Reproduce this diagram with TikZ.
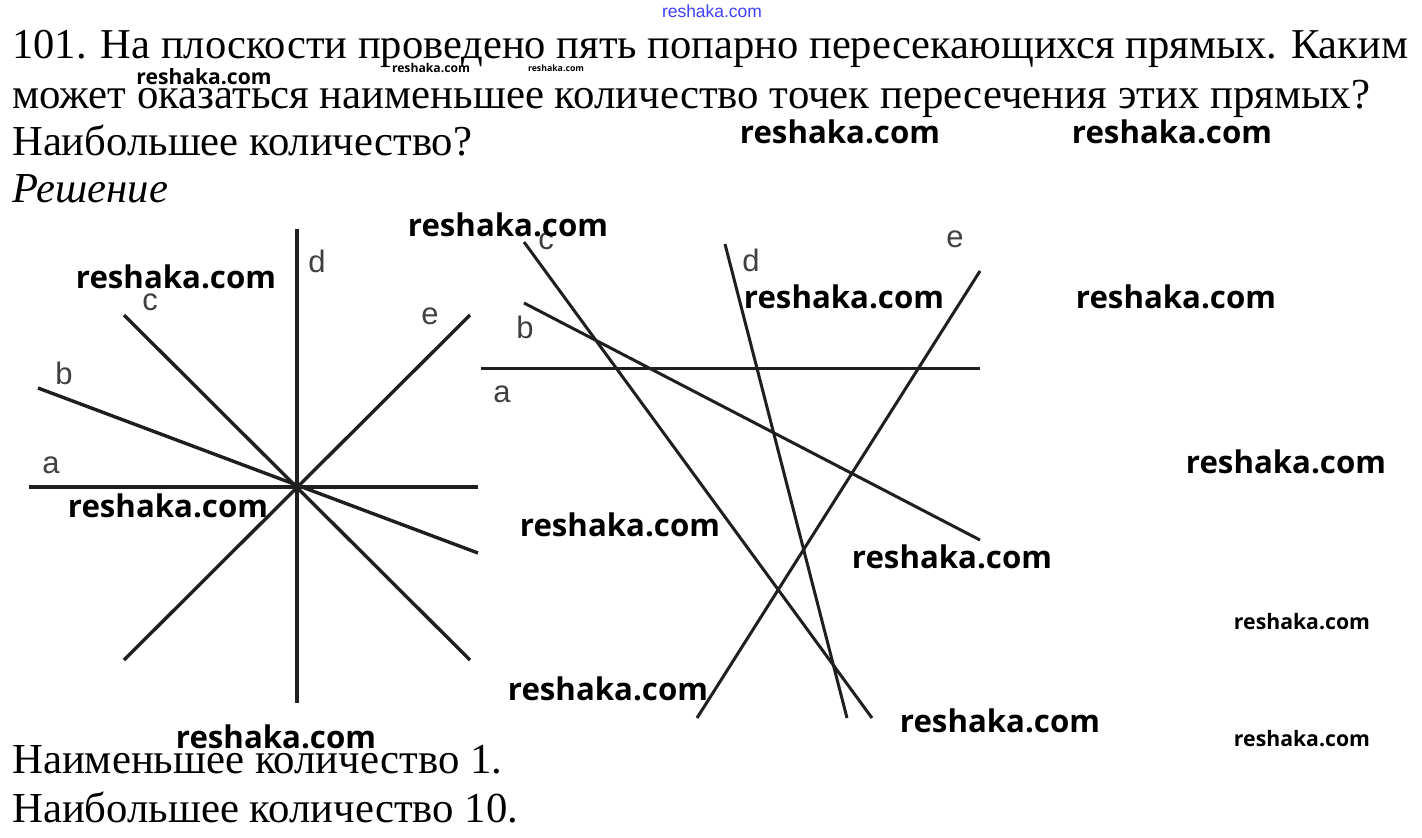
\documentclass[tikz,border=0pt]{standalone}
\usepackage{fontspec}
\usepackage{graphicx}
\setmainfont{Liberation Serif}
\setsansfont{Liberation Sans}
\newfontfamily\wmfont{Open Sans}
\newcommand\wmtext[1]{\resizebox{#1}{!}{reshaka.com}}
\newcommand\fitline[2]{\resizebox{#1}{!}{#2}}
\begin{document}
\begin{tikzpicture}[x=1pt,y=-1pt,
  txt/.style={anchor=base west, inner sep=0pt, font=\fontsize{40}{48}\selectfont},
  wm/.style={inner sep=0pt, font=\wmfont\bfseries},
  lbl/.style={inner sep=0pt, text=black!75, font=\sffamily\fontsize{31}{31}\selectfont},
  ln/.style={line width=3.4pt, black!88},
  lnr/.style={line width=3pt, black!88}]
\useasboundingbox (0,0) rectangle (1422,838);
\fill[white] (0,0) rectangle (1422,838);

% problem text
\node[txt] (t1) at (12,58) {\fitline{1396pt}{101. На плоскости проведено пять попарно пересекающихся прямых. Каким}};
\node[txt] (t2) at (12,108) {\fitline{1358pt}{может оказаться наименьшее количество точек пересечения этих прямых?}};
\node[txt] (t3) at (12,155) {\fitline{460pt}{Наибольшее количество?}};
\node[txt] (t4) at (12,202) {\fitline{156pt}{\itshape Решение}};
\node[txt] (t5) at (12,773) {\fitline{490pt}{Наименьшее количество 1.}};
\node[txt] (t6) at (12,822) {\fitline{506pt}{Наибольшее количество 10.}};

% left figure
\coordinate (O) at (297,487);
\coordinate (a1) at (29,487);  \coordinate (a2) at (478,487);
\coordinate (d1) at (297,229); \coordinate (d2) at (297,703);
\coordinate (c1) at (124,315); \coordinate (c2) at (470,660);
\coordinate (e1) at (470,315); \coordinate (e2) at (124,660);
\coordinate (b1) at (38,388);  \coordinate (b2) at (478,553);
\draw[ln] (a1) -- (a2);
\draw[ln] (d1) -- (d2);
\draw[ln] (c1) -- (c2);
\draw[ln] (e1) -- (e2);
\draw[ln] (b1) -- (b2);
\node[lbl] (la) at (51,465) {a};
\node[lbl] (lb) at (64,373) {b};
\node[lbl] (lc) at (150,302) {c};
\node[lbl] (ld) at (317,261) {d};
\node[lbl] (le) at (430,316) {e};

% right figure
\coordinate (ra1) at (481,368); \coordinate (ra2) at (980,368);
\coordinate (rb1) at (524,303); \coordinate (rb2) at (980,540);
\coordinate (rc1) at (524,242); \coordinate (rc2) at (872,718);
\coordinate (rd1) at (725,244); \coordinate (rd2) at (847,718);
\coordinate (re1) at (980,271); \coordinate (re2) at (697,718);
\draw[lnr] (ra1) -- (ra2);
\draw[lnr] (rb1) -- (rb2);
\draw[lnr] (rc1) -- (rc2);
\draw[lnr] (rd1) -- (rd2);
\draw[lnr] (re1) -- (re2);
\node[lbl] (rla) at (502,394) {a};
\node[lbl] (rlb) at (525,327) {b};
\node[lbl] (rlc) at (546,241) {c};
\node[lbl] (rld) at (751,260) {d};
\node[lbl] (rle) at (955,239) {e};

% watermarks
\node[inner sep=0pt, text=blue!75, font=\sffamily] (w1) at (712,11) {\wmtext{100pt}};
\node[wm] (w2) at (204,77) {\wmtext{135pt}};
\node[wm] (w3) at (431,68) {\wmtext{78pt}};
\node[wm] (w4) at (556,68) {\wmtext{56pt}};
\node[wm] (w5) at (840,132) {\wmtext{200pt}};
\node[wm] (w6) at (1172,132) {\wmtext{200pt}};
\node[wm] (w7) at (508,225) {\wmtext{200pt}};
\node[wm] (w8) at (176,277) {\wmtext{200pt}};
\node[wm] (w9) at (844,297) {\wmtext{200pt}};
\node[wm] (w10) at (1176,297) {\wmtext{200pt}};
\node[wm] (w11) at (1286,462) {\wmtext{200pt}};
\node[wm] (w12) at (168,506) {\wmtext{200pt}};
\node[wm] (w13) at (620,525) {\wmtext{200pt}};
\node[wm] (w14) at (952,557) {\wmtext{200pt}};
\node[wm] (w15) at (1302,622) {\wmtext{136pt}};
\node[wm] (w16) at (608,689) {\wmtext{200pt}};
\node[wm] (w17) at (1000,721) {\wmtext{200pt}};
\node[wm] (w18) at (276,737) {\wmtext{200pt}};
\node[wm] (w19) at (1302,739) {\wmtext{136pt}};
\end{tikzpicture}
\end{document}
